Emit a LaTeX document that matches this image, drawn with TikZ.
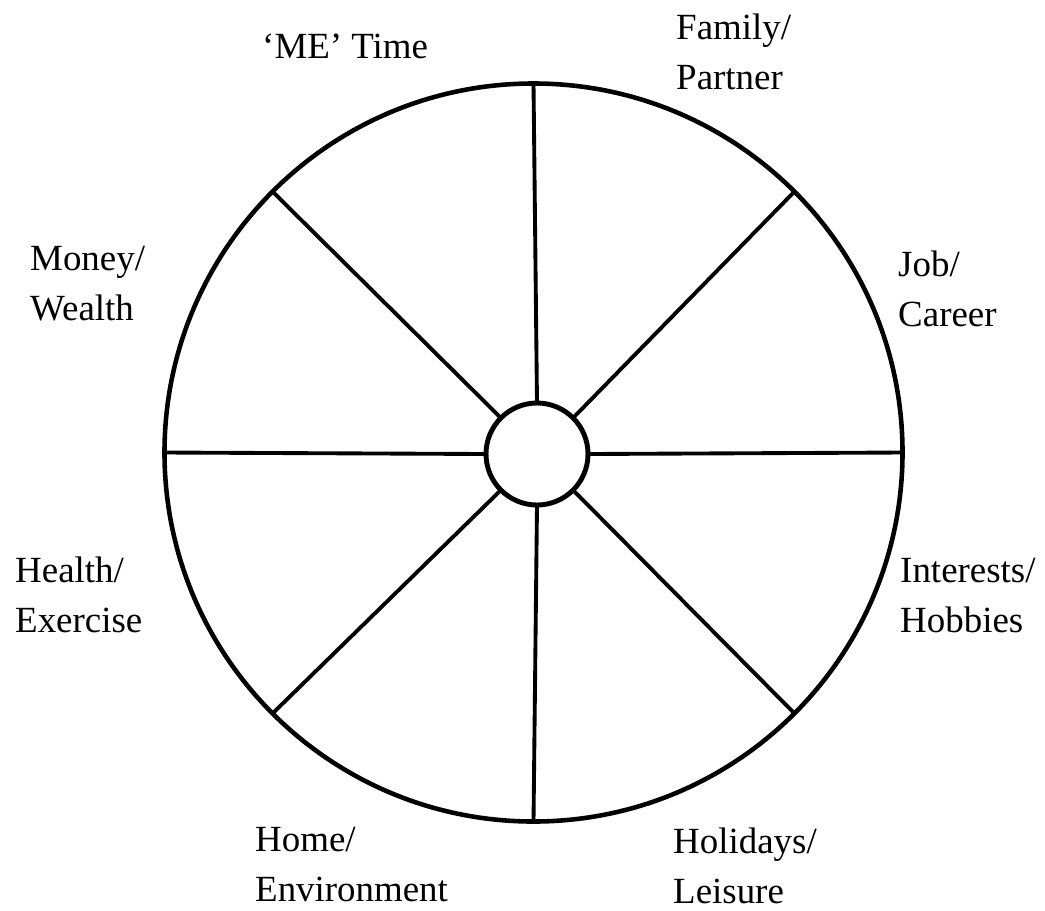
\documentclass[tikz,border=0pt]{standalone}
\usepackage{fontspec}
\setmainfont{Liberation Serif}
\begin{document}
\begin{tikzpicture}[x=0.03cm,y=-0.03cm,
  ring/.style={draw=black,circle,inner sep=0pt,outer sep=0pt},
  spoke/.style={draw=black,line width=3.3pt},
  lbl/.style={anchor=base west,inner sep=0pt,align=left,font=\fontsize{31.5}{42.5}\selectfont}]
\useasboundingbox (0,0) rectangle (1045,910);
\node[ring,line width=3.9pt,minimum size=22.14cm] (O) at (533.5,452.5) {};
\node[ring,line width=4.2pt,minimum size=3.06cm,fill=white] (I) at (537,454) {};
\foreach \a in {0,45,...,315}{\draw[spoke] (I.\a) -- (O.\a);}
\node[lbl] (me) at (262,58) {‘ME’ Time};
\node[lbl] (fam) at (676,89) {Family/\\Partner};
\node[lbl] (job) at (898,326) {Job/\\Career};
\node[lbl] (mon) at (30,320) {Money/\\Wealth};
\node[lbl] (hea) at (15,632) {Health/\\Exercise};
\node[lbl] (int) at (900,632) {Interests/\\Hobbies};
\node[lbl] (hom) at (255,901) {Home/\\Environment};
\node[lbl] (hol) at (673,903) {Holidays/\\Leisure};
\end{tikzpicture}
\end{document}
